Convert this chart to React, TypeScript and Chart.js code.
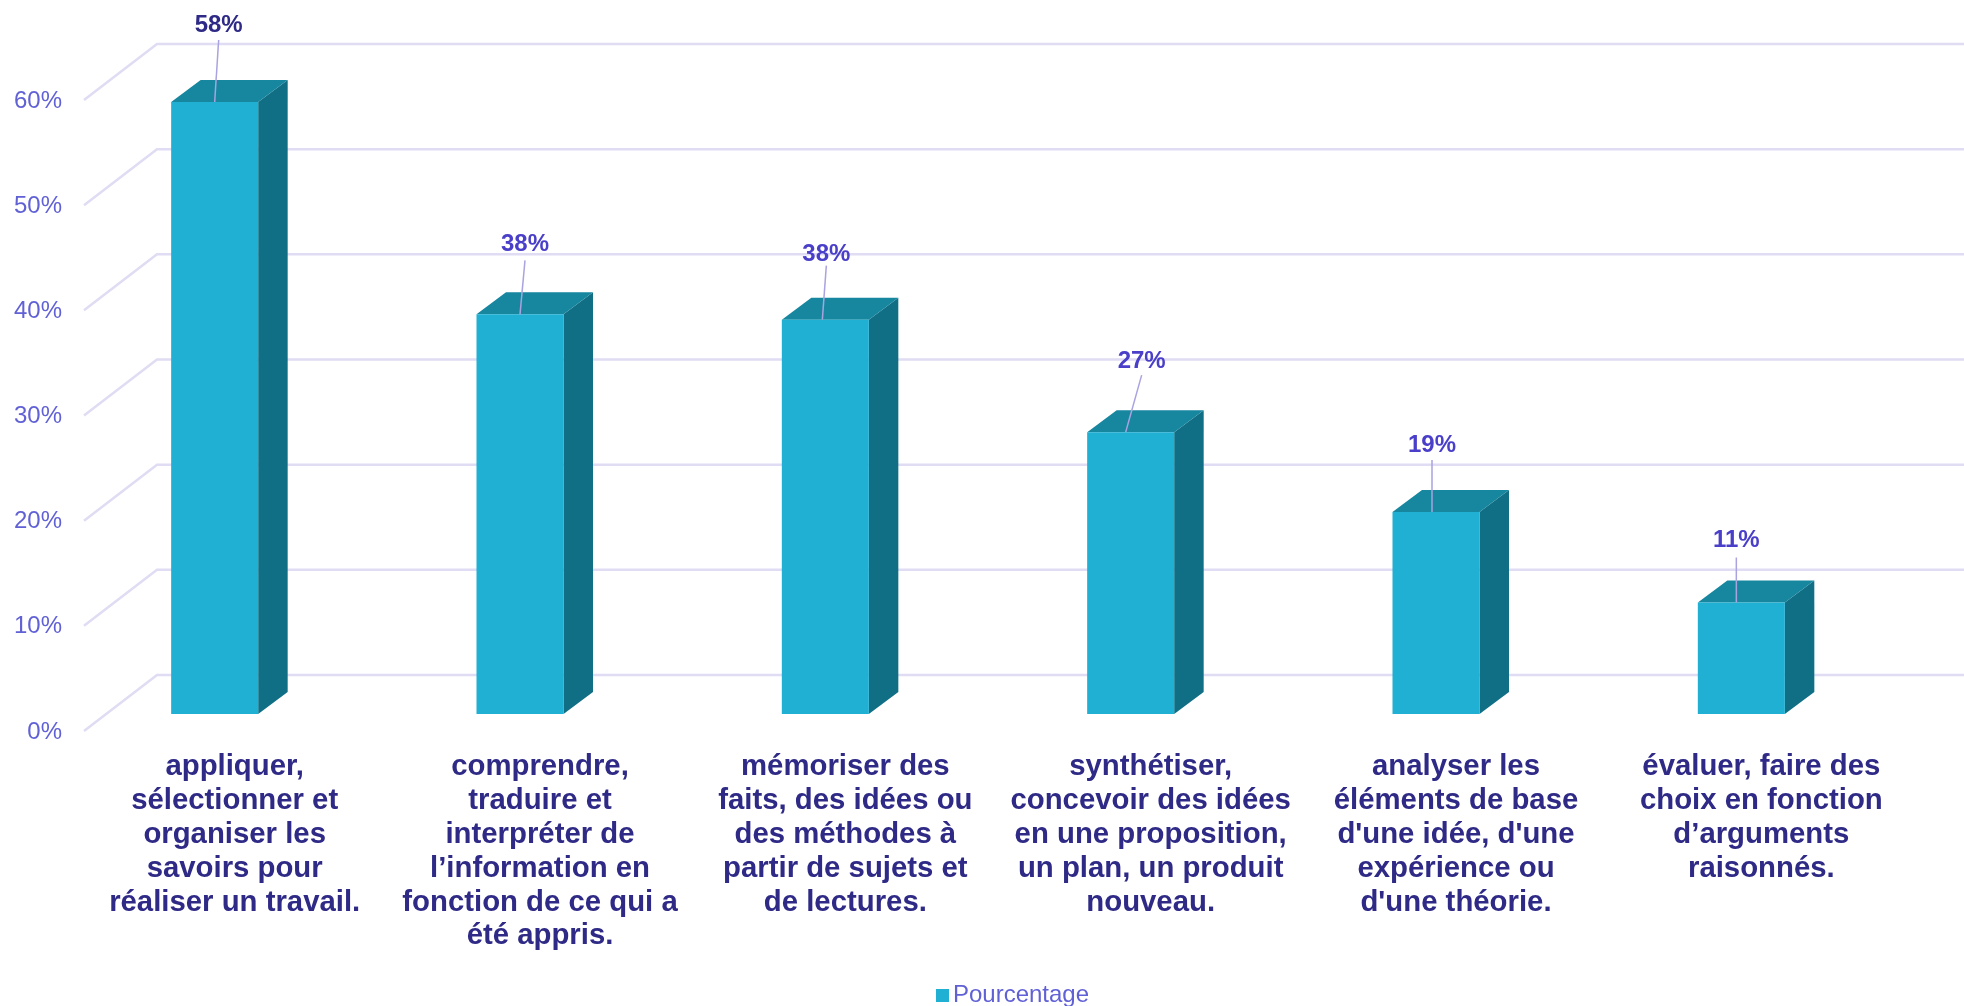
import React, { useEffect, useRef } from "react";
import { Chart, registerables } from "chart.js";

Chart.register(...registerables);

const categories: string[][] = [
  ["appliquer,", "sélectionner et", "organiser les", "savoirs pour", "réaliser un travail."],
  ["comprendre,", "traduire et", "interpréter de", "l’information en", "fonction de ce qui a", "été appris."],
  ["mémoriser des", "faits, des idées ou", "des méthodes à", "partir de sujets et", "de lectures."],
  ["synthétiser,", "concevoir des idées", "en une proposition,", "un plan, un produit", "nouveau."],
  ["analyser les", "éléments de base", "d'une idée, d'une", "expérience ou", "d'une théorie."],
  ["évaluer, faire des", "choix en fonction", "d’arguments", "raisonnés."],
];
const pourcentage: number[] = [58.2, 38, 37.5, 26.8, 19.2, 10.6];
const seriesName = "Pourcentage";
const yTicks = { min: 0, max: 60, step: 10 };

const FONT = "'Liberation Sans', Arial, sans-serif";
const FRONT = "#1fb0d3";
const SIDE = "#116f85";
const TOP = "#17869f";
const GRID = "#dfdcf3";
const LEADER = "#a9a3e0";
const TICK = "#6161d6";
const DX = 29.5;
const DY = 22;

const labelColors = ["#2e2a86", "#4a3fc9", "#4a3fc9", "#4a3fc9", "#4a3fc9", "#4a3fc9"];
// Label anchor, leader start and leader end, relative to the top-centre of the bar's front face
const labelShift: [number, number, number, number, number][] = [
  [4, -77, 4, -62, 0],
  [5, -70, 5, -54, 0],
  [1, -65, 1, -54, -3],
  [11, -71, 11, -57, -5],
  [-4, -67, -4, -52, -4],
  [-5, -62, -5, -45, -5],
];

const poly = (ctx: CanvasRenderingContext2D, pts: number[][], fill: string) => {
  ctx.beginPath();
  pts.forEach(([x, y], i) => (i ? ctx.lineTo(x, y) : ctx.moveTo(x, y)));
  ctx.closePath();
  ctx.fillStyle = fill;
  ctx.fill();
};

const box3d = {
  id: "box3d",
  afterLayout(chart: any) {
    const lg = chart.legend;
    lg.top += 11;
    lg.bottom += 11;
    lg.left += 32.5;
    lg.right += 32.5;
  },
  beforeDatasetsDraw(chart: any) {
    const { ctx, scales, width } = chart;
    const y = scales.y;
    ctx.save();
    ctx.strokeStyle = GRID;
    ctx.lineWidth = 2.5;
    y.ticks.forEach((t: any) => {
      const back = y.getPixelForValue(t.value) - 39;
      ctx.beginPath();
      ctx.moveTo(84, back + 56);
      ctx.lineTo(157, back);
      ctx.lineTo(width, back);
      ctx.stroke();
    });
    chart.getDatasetMeta(0).data.forEach((b: any) => {
      const l = b.x - b.width / 2;
      const r = b.x + b.width / 2;
      poly(ctx, [[r, b.y], [r + DX, b.y - DY], [r + DX, b.base - DY], [r, b.base]], SIDE);
      poly(ctx, [[l, b.y], [l + DX, b.y - DY], [r + DX, b.y - DY], [r, b.y]], TOP);
    });
    ctx.restore();
  },
  afterDatasetsDraw(chart: any) {
    const { ctx } = chart;
    ctx.save();
    chart.getDatasetMeta(0).data.forEach((b: any, i: number) => {
      const [tx, ty, lx, ly, ex] = labelShift[i];
      ctx.strokeStyle = LEADER;
      ctx.lineWidth = 1.5;
      ctx.beginPath();
      ctx.moveTo(b.x + lx, b.y + ly);
      ctx.lineTo(b.x + ex, b.y);
      ctx.stroke();
      ctx.fillStyle = labelColors[i];
      ctx.font = `bold 24px ${FONT}`;
      ctx.textAlign = "center";
      ctx.textBaseline = "middle";
      ctx.fillText(`${Math.round(pourcentage[i])}%`, b.x + tx, b.y + ty);
    });
    ctx.restore();
  },
};

const legendSwatch = () => {
  const c = document.createElement("canvas");
  c.width = 17;
  c.height = 13;
  const g = c.getContext("2d")!;
  g.fillStyle = FRONT;
  g.fillRect(4, 0, 13, 13);
  return c;
};

export default function App() {
  const ref = useRef<HTMLCanvasElement>(null);
  useEffect(() => {
    const swatch = legendSwatch();
    const chart = new Chart(ref.current!, {
      type: "bar",
      data: {
        labels: categories as any,
        datasets: [
          {
            label: seriesName,
            data: pourcentage,
            backgroundColor: FRONT,
            barPercentage: 0.285,
            categoryPercentage: 1,
          },
        ],
      },
      options: {
        animation: false,
        responsive: false,
        layout: { padding: { left: 0, top: 83, right: 0, bottom: 0 } },
        plugins: {
          title: { display: false },
          tooltip: { enabled: false },
          legend: {
            position: "bottom",
            labels: {
              padding: 0,
              usePointStyle: true,
              pointStyleWidth: 1,
              font: { family: FONT, size: 24 },
              color: TICK,
              generateLabels: () => [
                { text: seriesName, pointStyle: swatch, fontColor: TICK, fillStyle: FRONT, strokeStyle: FRONT, lineWidth: 0, datasetIndex: 0 } as any,
              ],
            },
          },
        },
        scales: {
          x: {
            grid: { display: false },
            border: { display: false },
            ticks: {
              autoSkip: false,
              maxRotation: 0,
              minRotation: 0,
              padding: 28,
              labelOffset: 20,
              color: "#2e2a86",
              font: { family: FONT, size: 29.33, weight: "bold", lineHeight: 1.155 },
            },
            afterFit: (s: any) => {
              s.height = 258;
            },
          },
          y: {
            min: yTicks.min,
            max: yTicks.max,
            grid: { display: false, drawTicks: false },
            border: { display: false },
            ticks: {
              stepSize: yTicks.step,
              padding: 0,
              labelOffset: 18,
              color: TICK,
              font: { family: FONT, size: 24 },
              callback: (v: any) => `${v}%`,
            },
            afterFit: (s: any) => {
              s.width = 62;
            },
          },
          yRight: {
            position: "right",
            min: 0,
            max: 60,
            grid: { display: false },
            border: { display: false },
            ticks: { display: false },
            afterFit: (s: any) => {
              s.width = 70;
            },
          },
        },
      } as any,
      plugins: [box3d],
    });
    return () => chart.destroy();
  }, []);
  return (
    <div style={{ position: "fixed", left: 0, top: 0, width: 1964, height: 1006, background: "#fff" }}>
      <canvas ref={ref} width={1964} height={1006} style={{ display: "block" }} />
    </div>
  );
}
